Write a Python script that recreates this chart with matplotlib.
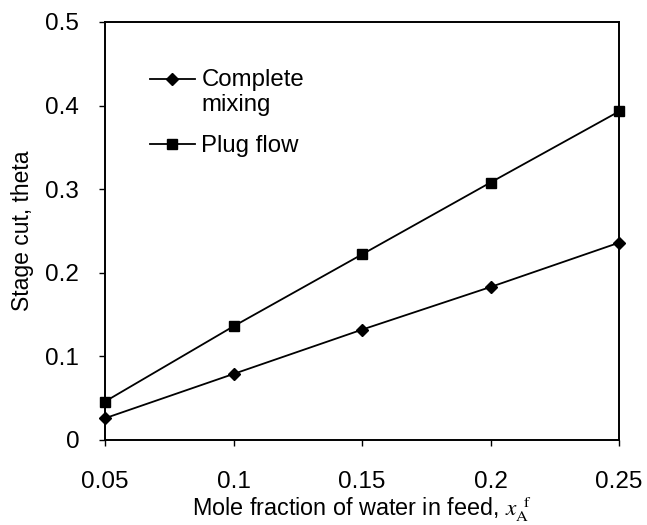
import numpy as np
import matplotlib
matplotlib.use("Agg")
from matplotlib import pyplot as plt
from matplotlib.legend_handler import HandlerLine2D
from matplotlib.ticker import FormatStrFormatter

plt.rcParams['font.family'] = ['Liberation Sans', 'DejaVu Sans']
plt.rcParams['mathtext.fontset'] = 'stix'

# data
x_feed = [0.05, 0.10, 0.15, 0.20, 0.25]
complete_mixing = [0.026, 0.079, 0.132, 0.183, 0.236]
plug_flow = [0.046, 0.136, 0.222, 0.308, 0.393]
x_ticks = [0.05, 0.1, 0.15, 0.2, 0.25]
y_ticks = [0, 0.1, 0.2, 0.3, 0.4, 0.5]


class FirstLineHandler(HandlerLine2D):
    # put the line+marker next to the first line of a two-line label
    def create_artists(self, legend, orig_handle, xdescent, ydescent,
                       width, height, fontsize, trans):
        return super().create_artists(legend, orig_handle, xdescent,
                                      ydescent - 1.15*fontsize, width, height,
                                      fontsize, trans)


fig = plt.figure(figsize=(6.47, 5.25), dpi=100)
ax = fig.add_axes([105/647, 1-440/525, 514/647, 418/525])

l1, = ax.plot(x_feed, complete_mixing, color='black', lw=1.3, marker='D',
              markersize=6.5, clip_on=False, zorder=3)
l2, = ax.plot(x_feed, plug_flow, color='black', lw=1.3, marker='s',
              markersize=7.5, clip_on=False, zorder=3)

ax.set_xlim(0.05, 0.25)
ax.set_ylim(0, 0.5)
ax.set_xticks(x_ticks)
ax.set_yticks(y_ticks)
ax.xaxis.set_major_formatter(FormatStrFormatter('%g'))
ax.yaxis.set_major_formatter(FormatStrFormatter('%g'))
ax.tick_params(direction='out', length=4.5, width=1, pad=14, labelsize=17.5)
ax.tick_params(axis='x', pad=18)
for s in ax.spines.values():
    s.set_linewidth(1.4)

ax.set_xlabel(r"Mole fraction of water in feed, $x_{\rm A}^{\;\;\rm f}$",
              fontsize=16.8, labelpad=1)
ax.set_ylabel("Stage cut, theta", fontsize=16.5, labelpad=8)

leg = ax.legend([l1, l2], ["Complete\nmixing", "Plug flow"],
                loc='upper left', bbox_to_anchor=(0.046, 0.94),
                frameon=False, fontsize=17.3, handlelength=1.85,
                handletextpad=0.28, labelspacing=0.8, numpoints=1,
                handler_map={l1: FirstLineHandler()})

fig.savefig("out.png", dpi=100)
